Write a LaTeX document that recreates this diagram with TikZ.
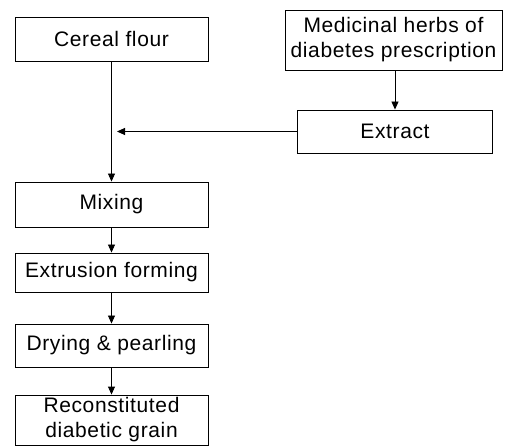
\documentclass[tikz,border=0pt]{standalone}
\usepackage{fontspec}
\setmainfont{Liberation Sans}[LetterSpace=3]
\usetikzlibrary{arrows.meta}
\begin{document}
\begin{tikzpicture}[x=1pt,y=-1pt,
  box/.style={draw, line width=0.9pt, inner sep=0pt, align=center,
    font=\fontsize{21}{25}\selectfont},
  conn/.style={line width=0.9pt, -{Triangle[length=8pt,width=7pt]}}]
\useasboundingbox (0,0) rectangle (506,446);
\node[box, minimum width=193pt, minimum height=44pt] (cereal) at (111.5,39) {Cereal flour};
\node[box, minimum width=217pt, minimum height=60pt] (herbs) at (393.5,40) {Medicinal herbs of\\diabetes prescription};
\node[box, minimum width=195pt, minimum height=43pt] (extract) at (395,131.5) {Extract};
\node[box, minimum width=193pt, minimum height=45pt] (mixing) at (111.5,204.5) {Mixing};
\node[box, minimum width=193pt, minimum height=39pt] (extrusion) at (111.5,272.5) {Extrusion forming};
\node[box, minimum width=193pt, minimum height=43pt] (drying) at (111.5,345.5) {Drying \& pearling};
\node[box, minimum width=193pt, minimum height=50pt] (recon) at (111.5,420) {Reconstituted\\diabetic grain};
\coordinate (join) at (117,131.5);
\draw[conn] (extract.north |- herbs.south) -- (extract.north);
\draw[conn] (extract.west) -- (join);
\draw[conn] (cereal.south) -- (mixing.north);
\draw[conn] (mixing.south) -- (extrusion.north);
\draw[conn] (extrusion.south) -- (drying.north);
\draw[conn] (drying.south) -- (recon.north);
\end{tikzpicture}
\end{document}
